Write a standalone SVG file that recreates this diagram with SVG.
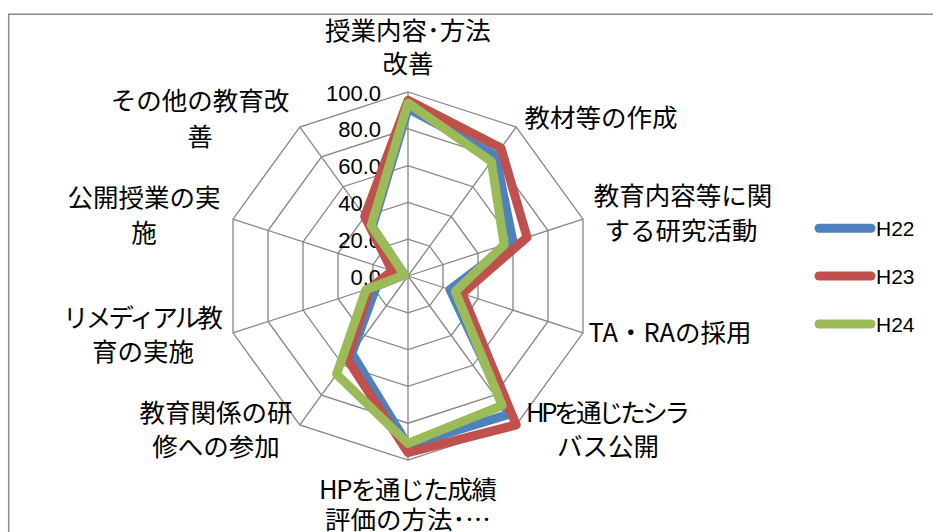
<svg xmlns="http://www.w3.org/2000/svg" width="933" height="532" viewBox="0 0 933 532">
<style>
.bg{fill:#ffffff}
.frame{fill:none;stroke:#8c8c8c;stroke-width:1.5}
.grid{fill:none;stroke:#868686;stroke-width:1.3}
.ser{fill:none;stroke-width:9;stroke-linejoin:round;stroke-linecap:round}
.h22{stroke:#4F81BD}
.h23{stroke:#C0504D}
.h24{stroke:#9BBB59}
.lab{font-family:"Noto Sans CJK JP","Noto Sans",sans-serif;font-size:25.5px;fill:#000;text-anchor:middle}
.num{font-family:"Liberation Sans",Arial,sans-serif;font-size:22px;fill:#000;text-anchor:end}
.leg{font-family:"Liberation Sans",Arial,sans-serif;font-size:21px;fill:#000}
</style>
<rect class="bg" x="0" y="0" width="933" height="532"/>
<path class="frame" d="M8.7,540 V14.3 H940"/>
<g id="grid">
<polygon class="grid" points="408,239.2 429.6,246.2 443,264.6 443,287.4 429.6,305.8 408,312.8 386.4,305.8 373,287.4 373,264.6 386.4,246.2"/>
<polygon class="grid" points="408,202.4 451.3,216.5 478,253.3 478,298.7 451.3,335.5 408,349.6 364.7,335.5 338,298.7 338,253.3 364.7,216.5"/>
<polygon class="grid" points="408,165.6 472.9,186.7 513,241.9 513,310.1 472.9,365.3 408,386.4 343.1,365.3 303,310.1 303,241.9 343.1,186.7"/>
<polygon class="grid" points="408,128.8 494.5,156.9 548,230.5 548,321.5 494.5,395.1 408,423.2 321.5,395.1 268,321.5 268,230.5 321.5,156.9"/>
<polygon class="grid" points="408,92 516.2,127.1 583,219.1 583,332.9 516.2,424.9 408,460 299.8,424.9 233,332.9 233,219.1 299.8,127.1"/>
<path class="grid" d="M408,276 L408,92 M408,276 L516.2,127.1 M408,276 L583,219.1 M408,276 L583,332.9 M408,276 L516.2,424.9 M408,276 L408,460 M408,276 L299.8,424.9 M408,276 L233,332.9 M408,276 L233,219.1 M408,276 L299.8,127.1"/>
</g>
<g id="axis-values">
<text class="num" x="381" y="100.5">100.0</text>
<text class="num" x="381" y="137.3">80.0</text>
<text class="num" x="381" y="174.1">60.0</text>
<text class="num" x="381" y="210.9">40.0</text>
<text class="num" x="381" y="247.7">20.0</text>
<text class="num" x="381" y="284.5">0.0</text>
</g>
<g id="connectors">
<polygon id="series-H22" class="ser h22" points="408,108.6 495.6,155.4 513,241.9 450,289.7 508.6,414.4 408,445.3 351.8,353.4 376.5,286.2 404.5,274.9 372.3,226.9"/>
<polygon id="series-H23" class="ser h23" points="408,100.3 501,148 527,237.3 462.2,293.6 516.2,424.9 408,452.6 347.4,359.4 369.5,288.5 392.2,270.9 364.7,216.5"/>
<polygon id="series-H24" class="ser h24" points="408,103 491.3,161.4 504.2,244.7 455.3,291.4 502.1,405.5 408,443.4 336.6,374.2 366,289.7 404.5,274.9 371.2,225.4"/>
</g>
<g id="node-axis0"><text class="lab" x="408" y="40">授業内容･方法</text><text class="lab" x="408" y="73">改善</text></g>
<g id="node-axis1"><text class="lab" x="601" y="127">教材等の作成</text></g>
<g id="node-axis2"><text class="lab" x="683" y="205">教育内容等に関</text><text class="lab" x="681" y="240">する研究活動</text></g>
<g id="node-axis3"><text class="lab" x="670" y="342">TA・RAの採用</text></g>
<g id="node-axis4"><text class="lab" x="608" y="422" textLength="164">HPを通じたシラ</text><text class="lab" x="608" y="456">バス公開</text></g>
<g id="node-axis5"><text class="lab" x="408" y="499" textLength="178">HPを通じた成績</text><text class="lab" x="408" y="529">評価の方法･…</text></g>
<g id="node-axis6"><text class="lab" x="216" y="422">教育関係の研</text><text class="lab" x="216" y="456">修への参加</text></g>
<g id="node-axis7"><text class="lab" x="143" y="327" textLength="160">リメディアル教</text><text class="lab" x="143" y="361">育の実施</text></g>
<g id="node-axis8"><text class="lab" x="144" y="207">公開授業の実</text><text class="lab" x="144" y="242">施</text></g>
<g id="node-axis9"><text class="lab" x="200" y="110">その他の教育改</text><text class="lab" x="200" y="146">善</text></g>
<g id="legend">
<line class="ser h22" x1="819" y1="228.3" x2="871" y2="228.3"/>
<line class="ser h23" x1="819" y1="276" x2="871" y2="276"/>
<line class="ser h24" x1="819" y1="324" x2="871" y2="324"/>
<text class="leg" x="876" y="236">H22</text>
<text class="leg" x="876" y="284">H23</text>
<text class="leg" x="876" y="332">H24</text>
</g>
</svg>
